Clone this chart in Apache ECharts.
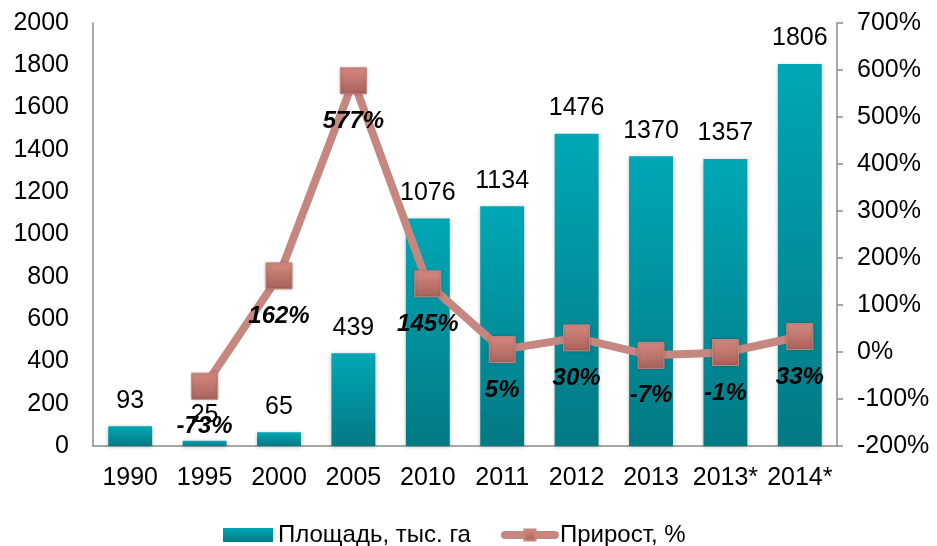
<!DOCTYPE html>
<html>
<head>
<meta charset="utf-8">
<script src="https://cdn.jsdelivr.net/npm/echarts@6/dist/echarts.min.js"></script>
<style>html,body{margin:0;padding:0;background:#fff}#c{width:937px;height:546px}</style>
</head>
<body>
<div id="c"></div>
<script>
const categories = ['1990','1995','2000','2005','2010','2011','2012','2013','2013*','2014*'];
const areaValues = [93, 25, 65, 439, 1076, 1134, 1476, 1370, 1357, 1806];
const growthValues = [null, -73, 162, 577, 145, 5, 30, -7, -1, 33];
const areaName = 'Площадь, тыс. га';
const growthName = 'Прирост, %';

const font = '"Liberation Sans", Arial, sans-serif';
const chart = echarts.init(document.getElementById('c'), null, {renderer: 'canvas'});
const barGrad = new echarts.graphic.LinearGradient(0, 0, 0, 1, [
  {offset: 0, color: '#00a7b5'},
  {offset: 1, color: '#037984'}
]);
const markGrad = new echarts.graphic.LinearGradient(0, 0, 0, 1, [
  {offset: 0, color: '#d4897f'},
  {offset: 1, color: '#a8625c'}
]);
chart.setOption({
  animation: false,
  textStyle: {fontFamily: font},
  grid: {left: 93, right: 100, top: 23, bottom: 100, containLabel: false},
  legend: {
    top: 518, left: 218,
    itemWidth: 50, itemHeight: 14, itemGap: 30,
    textStyle: {fontSize: 24, color: '#000', fontFamily: font},
    data: [
      {name: areaName, icon: 'rect'},
      {name: growthName, lineStyle: {width: 8, cap: 'round', color: '#c5877f'}}
    ]
  },
  xAxis: {
    type: 'category', data: categories,
    axisLine: {lineStyle: {color: '#8c8c8c', width: 1.5}},
    axisTick: {show: false},
    axisLabel: {fontSize: 25, color: '#000', margin: 20, fontFamily: font, interval: 0}
  },
  yAxis: [
    {
      type: 'value', min: 0, max: 2000, interval: 200,
      axisLine: {show: true, lineStyle: {color: '#8c8c8c', width: 1.5}},
      axisTick: {show: false},
      splitLine: {show: false},
      axisLabel: {fontSize: 25, color: '#000', margin: 24, fontFamily: font, formatter: v => String(v)}
    },
    {
      type: 'value', min: -200, max: 700, interval: 100,
      axisLine: {show: true, lineStyle: {color: '#8c8c8c', width: 1.5}},
      axisTick: {show: true, length: 6, lineStyle: {color: '#8c8c8c', width: 1.5}},
      splitLine: {show: false},
      axisLabel: {fontSize: 25, color: '#000', margin: 20, fontFamily: font, formatter: '{value}%'}
    }
  ],
  series: [
    {
      name: areaName, type: 'bar', yAxisIndex: 0, data: areaValues,
      barCategoryGap: '41%',
      itemStyle: {color: barGrad, shadowColor: 'rgba(0,0,0,0.25)', shadowBlur: 4, shadowOffsetY: 1},
      label: {show: true, position: 'top', distance: 13, fontSize: 25, color: '#000', fontFamily: font}
    },
    {
      name: growthName, type: 'line', yAxisIndex: 1, data: growthValues,
      connectNulls: false,
      symbol: 'rect', symbolSize: 26,
      lineStyle: {color: '#c5877f', width: 8},
      itemStyle: {color: markGrad, borderColor: '#c5877f', borderWidth: 1, shadowColor: 'rgba(0,0,0,0.25)', shadowBlur: 3},
      label: {show: true, position: 'bottom', distance: 15, fontSize: 24, fontWeight: 'bold', fontStyle: 'italic', color: '#000', fontFamily: font, formatter: '{c}%'},
      z: 5
    }
  ]
});
</script>
</body>
</html>
